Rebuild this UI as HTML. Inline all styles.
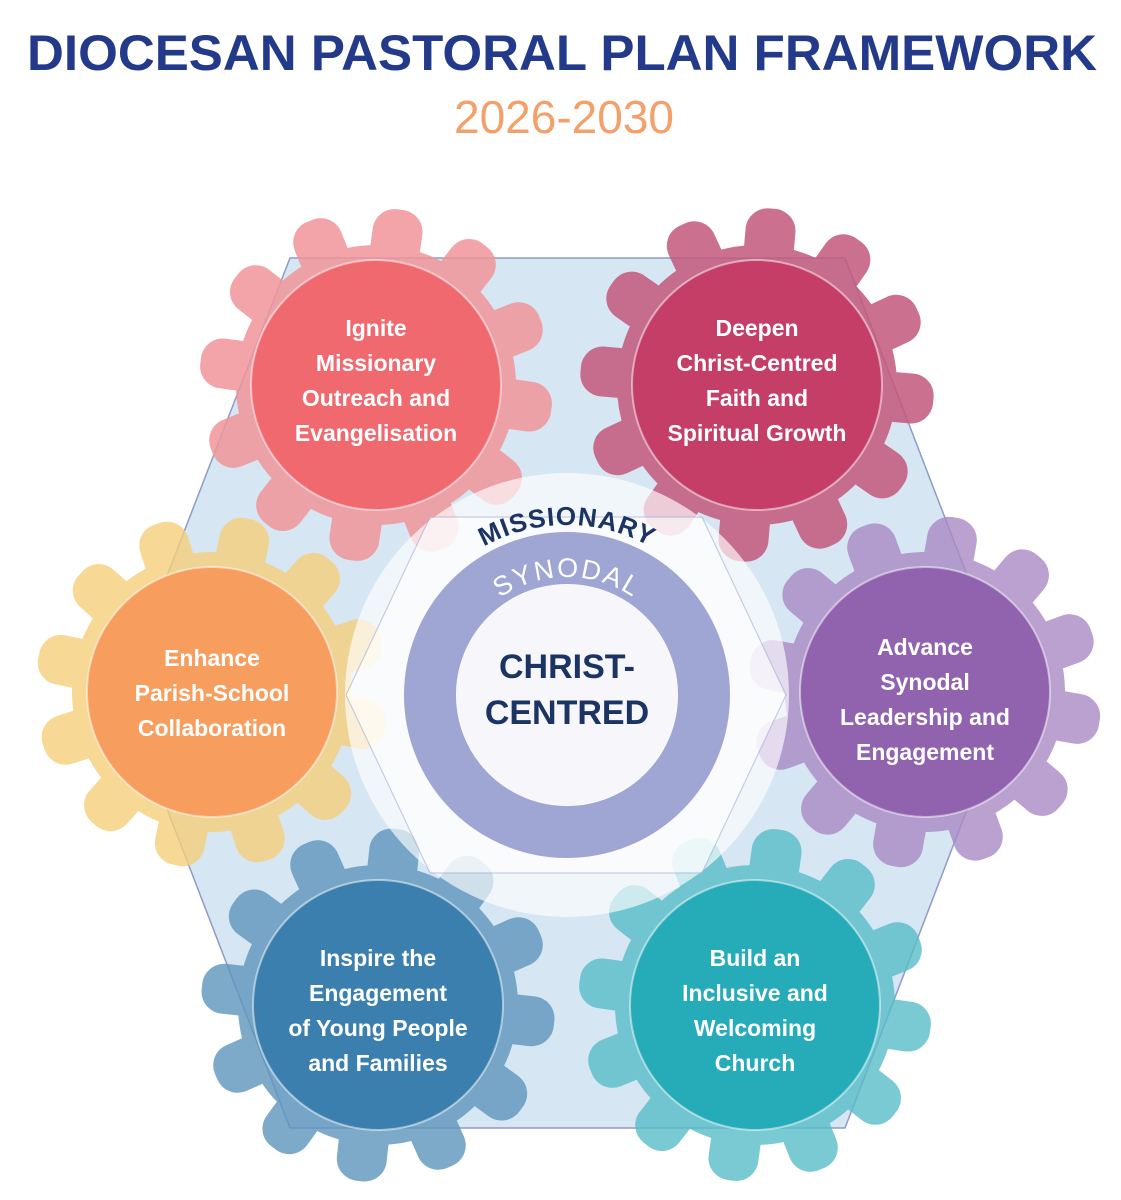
<!DOCTYPE html>
<html><head><meta charset="utf-8"><style>
html,body{margin:0;padding:0;background:#fff;}
svg{display:block;}
</style></head><body>
<svg width="1121" height="1200" viewBox="0 0 1121 1200" xmlns="http://www.w3.org/2000/svg" font-family="Liberation Sans, sans-serif">
<defs>
<g id="gear">
<circle r="140"/>
<rect x="-25" y="-177" width="50" height="60" rx="22"/>
<rect x="-25" y="-177" width="50" height="60" rx="22" transform="rotate(30)"/>
<rect x="-25" y="-177" width="50" height="60" rx="22" transform="rotate(60)"/>
<rect x="-25" y="-177" width="50" height="60" rx="22" transform="rotate(90)"/>
<rect x="-25" y="-177" width="50" height="60" rx="22" transform="rotate(120)"/>
<rect x="-25" y="-177" width="50" height="60" rx="22" transform="rotate(150)"/>
<rect x="-25" y="-177" width="50" height="60" rx="22" transform="rotate(180)"/>
<rect x="-25" y="-177" width="50" height="60" rx="22" transform="rotate(210)"/>
<rect x="-25" y="-177" width="50" height="60" rx="22" transform="rotate(240)"/>
<rect x="-25" y="-177" width="50" height="60" rx="22" transform="rotate(270)"/>
<rect x="-25" y="-177" width="50" height="60" rx="22" transform="rotate(300)"/>
<rect x="-25" y="-177" width="50" height="60" rx="22" transform="rotate(330)"/>
</g>
<path id="arcM" d="M397,695 A170,170 0 0 1 737,695"/>
<path id="arcS" d="M449,695 A118,118 0 0 1 685,695"/>
</defs>

<text x="562" y="70" text-anchor="middle" font-size="50" font-weight="bold" fill="#233a8a" textLength="1070" lengthAdjust="spacingAndGlyphs">DIOCESAN PASTORAL PLAN FRAMEWORK</text>
<text x="564" y="133" text-anchor="middle" font-size="46" fill="#f4a06a">2026-2030</text>

<polygon points="290,258 845,258 1012,692 845,1128 290,1128 122,692" fill="#d6e6f3" stroke="#8f9cc8" stroke-width="1.5"/>

<g fill="#f0959a" opacity="0.85" transform="translate(376,385) rotate(8)"><use href="#gear"/></g>
<g fill="#c4587c" opacity="0.85" transform="translate(757,385) rotate(5)"><use href="#gear"/></g>
<g fill="#f6cf7a" opacity="0.8" transform="translate(212,692) rotate(12)"><use href="#gear"/></g>
<g fill="#a98ac4" opacity="0.8" transform="translate(925,692) rotate(10)"><use href="#gear"/></g>
<g fill="#5f95bd" opacity="0.8" transform="translate(378,1005) rotate(6)"><use href="#gear"/></g>
<g fill="#58bdc9" opacity="0.8" transform="translate(755,1005) rotate(8)"><use href="#gear"/></g>

<circle cx="567" cy="695" r="222" fill="#ffffff" opacity="0.65"/>
<polygon points="430,517 702,517 786,695 702,873 430,873 346,695" fill="#ffffff" opacity="0.6" stroke="#a9b2d6" stroke-width="1.2"/>

<g stroke="#ffffff" stroke-opacity="0.5" stroke-width="2">
<circle cx="376" cy="385" r="125" fill="#f0696f"/>
<circle cx="757" cy="385" r="125" fill="#c43e68"/>
<circle cx="212" cy="692" r="125" fill="#f79d5e"/>
<circle cx="925" cy="692" r="125" fill="#9163ae"/>
<circle cx="378" cy="1005" r="125" fill="#3a7fae"/>
<circle cx="755" cy="1005" r="125" fill="#26abb8"/>
</g>

<circle cx="567" cy="695" r="137" fill="none" stroke="#a0a6d3" stroke-width="52"/>
<circle cx="567" cy="695" r="110" fill="#f6f6fb"/>
<text font-size="26" font-weight="bold" fill="#1b3463" letter-spacing="1"><textPath href="#arcM" startOffset="50%" text-anchor="middle">MISSIONARY</textPath></text>
<text font-size="27" fill="#ffffff" letter-spacing="2"><textPath href="#arcS" startOffset="50%" text-anchor="middle">SYNODAL</textPath></text>
<text x="567" y="678" text-anchor="middle" font-size="34" font-weight="bold" fill="#1b3463">CHRIST-</text>
<text x="567" y="724" text-anchor="middle" font-size="34" font-weight="bold" fill="#1b3463">CENTRED</text>

<g font-size="23" font-weight="bold" fill="#ffffff" text-anchor="middle">
<text x="376" y="336">Ignite</text>
<text x="376" y="371">Missionary</text>
<text x="376" y="406">Outreach and</text>
<text x="376" y="441">Evangelisation</text>
<text x="757" y="336">Deepen</text>
<text x="757" y="371">Christ-Centred</text>
<text x="757" y="406">Faith and</text>
<text x="757" y="441">Spiritual Growth</text>
<text x="212" y="666">Enhance</text>
<text x="212" y="701">Parish-School</text>
<text x="212" y="736">Collaboration</text>
<text x="925" y="655">Advance</text>
<text x="925" y="690">Synodal</text>
<text x="925" y="725">Leadership and</text>
<text x="925" y="760">Engagement</text>
<text x="378" y="966">Inspire the</text>
<text x="378" y="1001">Engagement</text>
<text x="378" y="1036">of Young People</text>
<text x="378" y="1071">and Families</text>
<text x="755" y="966">Build an</text>
<text x="755" y="1001">Inclusive and</text>
<text x="755" y="1036">Welcoming</text>
<text x="755" y="1071">Church</text>
</g>
</svg>
</body></html>
